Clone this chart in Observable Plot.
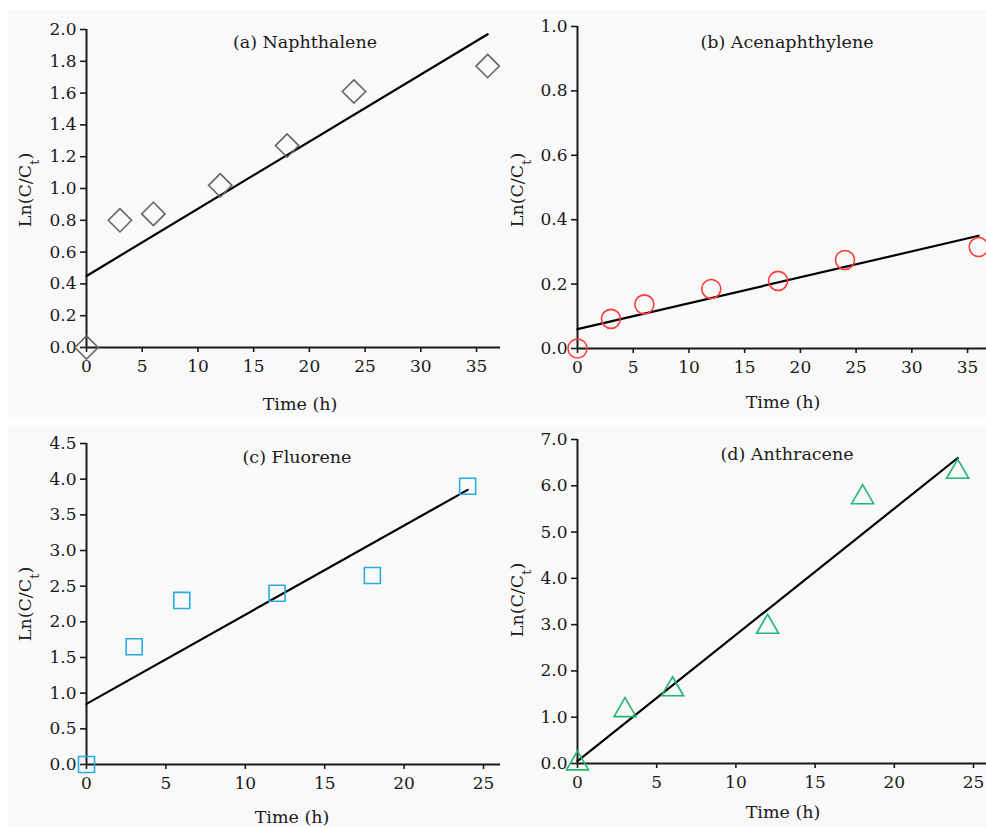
<!DOCTYPE html>
<html>
<head>
<meta charset="utf-8">
<script src="https://cdn.jsdelivr.net/npm/d3@7"></script>
<script src="https://cdn.jsdelivr.net/npm/@observablehq/plot@0.6"></script>
<style>
  html, body { margin: 0; padding: 0; background: #ffffff; }
  #wrap { position: relative; width: 986px; height: 827px; overflow: hidden; }
  .bg { position: absolute; background: #f9f9f9; }
  .panel { position: absolute; }
  .panel svg { overflow: visible; }
</style>
</head>
<body>
<div id="wrap">
  <div class="bg" style="left:8px;top:10px;width:978px;height:407px;"></div>
  <div class="bg" style="left:8px;top:425px;width:978px;height:402px;"></div>
</div>
<script>
// ---- data ----
const timeAB = [0, 3, 6, 12, 18, 24, 36];
const timeCD = [0, 3, 6, 12, 18, 24];

const naphthalene   = [0, 0.80, 0.84, 1.02, 1.27, 1.61, 1.77];
const acenaphthylene = [0, 0.092, 0.137, 0.185, 0.21, 0.275, 0.315];
const fluorene      = [0, 1.65, 2.30, 2.40, 2.65, 3.90];
const anthracene    = [0, 1.15, 1.60, 2.95, 5.75, 6.30];

const fitA_x = [0, 36], fitA_y = [0.45, 1.97];
const fitB_x = [0, 36], fitB_y = [0.06, 0.35];
const fitC_x = [0, 24], fitC_y = [0.85, 3.85];
const fitD_x = [0, 24], fitD_y = [0.05, 6.60];

const ticksA_y = [0, 0.2, 0.4, 0.6, 0.8, 1.0, 1.2, 1.4, 1.6, 1.8, 2.0];
const ticksB_y = [0, 0.2, 0.4, 0.6, 0.8, 1.0];
const ticksC_y = [0, 0.5, 1.0, 1.5, 2.0, 2.5, 3.0, 3.5, 4.0, 4.5];
const ticksD_y = [0, 1, 2, 3, 4, 5, 6, 7];
const ticksAB_x = [0, 5, 10, 15, 20, 25, 30, 35];
const ticksCD_x = [0, 5, 10, 15, 20, 25];

const titles = ["(a) Naphthalene", "(b) Acenaphthylene", "(c) Fluorene", "(d) Anthracene"];

// ---- drawing ----
const FONT = "DejaVu Serif";
const INK = "#1a1a1a";

function panel(cfg) {
  const pts = cfg.x.map((t, i) => ({t, v: cfg.y[i]}));
  const fit = cfg.fx.map((t, i) => ({t, v: cfg.fy[i]}));
  const plot = Plot.plot({
    width: cfg.width, height: cfg.height,
    marginLeft: cfg.ml, marginRight: 0, marginTop: cfg.mt, marginBottom: cfg.mb,
    style: {fontFamily: FONT, fontSize: "17px", background: "transparent", color: INK, overflow: "visible"},
    x: {domain: [0, cfg.xmax]},
    y: {domain: [0, cfg.ymax]},
    marks: [
      Plot.axisX({ticks: cfg.xticks, tickSize: 5, tickPadding: 7, tickFormat: d3.format("d"), label: null, strokeWidth: 1.6, stroke: INK, fill: INK}),
      Plot.axisY({ticks: cfg.yticks, tickSize: 6, tickPadding: 4, tickFormat: d3.format(".1f"), label: null, strokeWidth: 1.6, stroke: INK, fill: INK}),
      Plot.ruleX([0], {stroke: INK, strokeWidth: 2}),
      Plot.ruleY([0], {stroke: INK, strokeWidth: 2}),
      Plot.line(fit, {x: "t", y: "v", stroke: "#000", strokeWidth: 2.2}),
      Plot.dot(pts, {x: "t", y: "v", symbol: cfg.symbol, r: cfg.r, stroke: cfg.color, strokeWidth: 1.6, fill: "none"})
    ]
  });
  const svg = d3.select(plot);
  svg.selectAll("g[aria-label$='tick label']").style("font-size", "17px").style("font-family", FONT);
  svg.selectAll("g[aria-label$='tick label'] text").style("font-size", "17px");
  svg.append("text").attr("x", cfg.title[1]).attr("y", cfg.title[2]).attr("text-anchor", "middle")
    .style("font-family", FONT).style("font-size", "17.5px").attr("fill", INK).text(cfg.title[0]);
  svg.append("text").attr("x", cfg.xlab[0]).attr("y", cfg.xlab[1]).attr("text-anchor", "middle")
    .style("font-family", FONT).style("font-size", "17.5px").attr("fill", INK).text("Time (h)");
  const yl = svg.append("text").attr("transform", `translate(${cfg.ylab[0]},${cfg.ylab[1]}) rotate(-90)`)
    .attr("text-anchor", "middle").attr("dy", "0.35em")
    .style("font-family", FONT).style("font-size", "17.5px").attr("fill", INK);
  yl.append("tspan").text("Ln(C/C");
  yl.append("tspan").attr("baseline-shift", "sub").style("font-size", "13px").text("t");
  yl.append("tspan").text(")");
  const div = document.createElement("div");
  div.className = "panel";
  div.style.left = cfg.left + "px";
  div.style.top = cfg.top + "px";
  div.appendChild(plot);
  document.getElementById("wrap").appendChild(div);
}

panel({left: 0, top: 0, width: 500, height: 417, ml: 86, mt: 29, mb: 70,
  x: timeAB, y: naphthalene, fx: fitA_x, fy: fitA_y, xmax: 37.15, ymax: 2.0,
  xticks: ticksAB_x, yticks: ticksA_y, symbol: "diamond2", r: 10.5, color: "#666",
  title: [titles[0], 305, 48], xlab: [300, 410], ylab: [25, 190]});

panel({left: 490, top: 0, width: 496, height: 417, ml: 87, mt: 26, mb: 69,
  x: timeAB, y: acenaphthylene, fx: fitB_x, fy: fitB_y, xmax: 36.7, ymax: 1.0,
  xticks: ticksAB_x, yticks: ticksB_y, symbol: "circle", r: 9.5, color: "#ff3b3b",
  title: [titles[1], 297, 48], xlab: [293, 408], ylab: [27, 190]});

panel({left: 0, top: 417, width: 500, height: 410, ml: 86, mt: 26, mb: 63,
  x: timeCD, y: fluorene, fx: fitC_x, fy: fitC_y, xmax: 26.07, ymax: 4.5,
  xticks: ticksCD_x, yticks: ticksC_y, symbol: "square2", r: 10.2, color: "#29abe2",
  title: [titles[2], 297, 46], xlab: [292, 406], ylab: [25, 187]});

panel({left: 490, top: 417, width: 496, height: 410, ml: 87, mt: 22, mb: 64,
  x: timeCD, y: anthracene, fx: fitD_x, fy: fitD_y, xmax: 25.82, ymax: 7.0,
  xticks: ticksCD_x, yticks: ticksD_y, symbol: "triangle2", r: 10.5, color: "#22b573",
  title: [titles[3], 297, 43], xlab: [293, 401], ylab: [27, 183]});
</script>
</body>
</html>
